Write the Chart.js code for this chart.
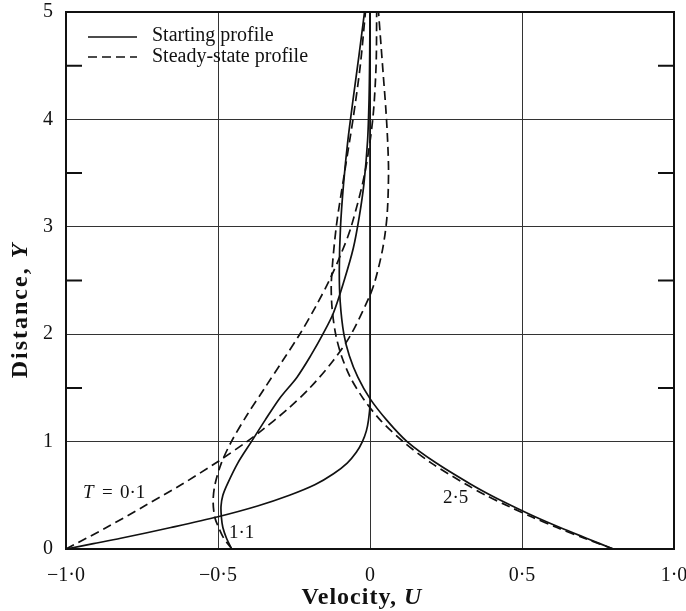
<!DOCTYPE html>
<html>
<head>
<meta charset="utf-8">
<script src="https://cdn.jsdelivr.net/npm/chart.js@4/dist/chart.umd.min.js"></script>
<style>
  html, body { margin: 0; padding: 0; background: #fff; }
  canvas { display: block; }
</style>
</head>
<body>
<canvas id="chart" width="686" height="611"></canvas>
<script>
// Velocity profiles: U (velocity) against Y (distance)

// T = 0.1
const startY01 = [0, 0.05, 0.1, 0.2, 0.3, 0.4, 0.5, 0.6, 0.7, 0.8, 0.9, 1.0, 1.1, 1.2, 1.35, 2.0, 3.0, 4.0, 5.0];
const startU01 = [-1.0, -0.91, -0.82, -0.655, -0.50, -0.37, -0.265, -0.18, -0.12, -0.075, -0.045, -0.025, -0.012, -0.005, 0, 0, 0, 0, 0];
const steadyY01 = [0, 0.2, 0.4, 0.6, 0.82, 1.0, 1.1, 1.3, 1.5, 1.75, 2.0, 2.35, 2.5, 2.8, 3.1, 3.5, 3.8, 4.1, 4.4, 4.7, 5.0];
const steadyU01 = [-1.0, -0.867, -0.742, -0.62, -0.497, -0.405, -0.358, -0.272, -0.198, -0.122, -0.062, -0.002, 0.017, 0.042, 0.056, 0.061, 0.058, 0.052, 0.044, 0.036, 0.028];

// T = 1.1
const startY11 = [0, 0.1, 0.2, 0.3, 0.4, 0.5, 0.6, 0.8, 1.0, 1.2, 1.4, 1.6, 1.8, 2.0, 2.2, 2.5, 2.8, 3.1, 3.4, 3.8, 4.2, 4.6, 5.0];
const startU11 = [-0.455, -0.472, -0.484, -0.489, -0.49, -0.484, -0.47, -0.435, -0.39, -0.345, -0.298, -0.24, -0.195, -0.155, -0.12, -0.085, -0.055, -0.035, -0.02, -0.008, -0.003, -0.001, 0];
const steadyY11 = [0, 0.1, 0.2, 0.3, 0.45, 0.6, 0.8, 1.0, 1.25, 1.5, 1.75, 2.0, 2.25, 2.5, 2.75, 3.0, 3.5, 4.0, 4.5, 5.0];
const steadyU11 = [-0.454, -0.481, -0.498, -0.511, -0.516, -0.51, -0.489, -0.456, -0.404, -0.346, -0.288, -0.231, -0.18, -0.134, -0.095, -0.062, -0.017, 0.009, 0.02, 0.022];

// T = 2.5
const startY25 = [0, 0.1, 0.2, 0.3, 0.4, 0.5, 0.6, 0.8, 1.0, 1.2, 1.4, 1.6, 1.8, 2.0, 2.3, 2.6, 3.0, 3.4, 3.8, 4.2, 4.6, 5.0];
const startU25 = [0.80, 0.712, 0.625, 0.543, 0.468, 0.397, 0.333, 0.218, 0.122, 0.055, 0.0, -0.04, -0.068, -0.086, -0.098, -0.101, -0.097, -0.087, -0.073, -0.055, -0.036, -0.018];
const steadyY25 = [0, 0.1, 0.2, 0.3, 0.4, 0.5, 0.6, 0.8, 1.0, 1.2, 1.4, 1.6, 1.8, 2.0, 2.25, 2.5, 3.0, 3.5, 4.0, 4.5, 5.0];
const steadyU25 = [0.801, 0.705, 0.615, 0.531, 0.454, 0.381, 0.317, 0.202, 0.109, 0.034, -0.022, -0.065, -0.094, -0.113, -0.125, -0.127, -0.111, -0.084, -0.056, -0.032, -0.015];

// Axis ticks
const xTicks = [-1, -0.5, 0, 0.5, 1];
const xTickLabels = ['−1·0', '−0·5', '0', '0·5', '1·0'];
const minorY = [1.5, 2.5, 3.5, 4.5];

const SERIF = '"Liberation Serif", "DejaVu Serif", serif';
const INK = '#111';

function toPoints(us, ys) {
    return us.map((u, i) => ({ x: u, y: ys[i] }));
}

function profile(us, ys, dashed) {
    return {
        data: toPoints(us, ys),
        showLine: true,
        borderColor: INK,
        borderWidth: 1.7,
        borderDash: dashed ? [9, 5] : [],
        pointRadius: 0,
        tension: 0.3,
        fill: false
    };
}

// draws "plain" + "italic" run centred on cx
function mixedText(ctx, plain, italic, size, bold, cx, cy) {
    const w = bold ? 'bold ' : '';
    ctx.font = w + size + 'px ' + SERIF;
    const aW = ctx.measureText(plain).width;
    ctx.font = w + 'italic ' + size + 'px ' + SERIF;
    const bW = ctx.measureText(italic).width;
    const sx = cx - (aW + bW) / 2;
    ctx.font = w + size + 'px ' + SERIF;
    ctx.fillText(plain, sx, cy);
    ctx.font = w + 'italic ' + size + 'px ' + SERIF;
    ctx.fillText(italic, sx + aW, cy);
}

// Frame, minor ticks, legend, curve labels and axis titles
const decorations = {
    id: 'decorations',
    afterDraw(chart) {
        const ctx = chart.ctx;
        const a = chart.chartArea;
        const ys = chart.scales.y;
        ctx.save();

        // frame
        ctx.strokeStyle = INK;
        ctx.lineWidth = 2;
        ctx.setLineDash([]);
        ctx.strokeRect(a.left, a.top, a.right - a.left, a.bottom - a.top);

        // minor ticks inside on both sides
        minorY.forEach(v => {
            const py = ys.getPixelForValue(v);
            ctx.beginPath();
            ctx.moveTo(a.left, py); ctx.lineTo(a.left + 16, py);
            ctx.moveTo(a.right, py); ctx.lineTo(a.right - 16, py);
            ctx.stroke();
        });

        // legend
        ctx.lineWidth = 1.7;
        ctx.beginPath();
        ctx.moveTo(88, 37); ctx.lineTo(137, 37);
        ctx.stroke();
        ctx.setLineDash([9, 5]);
        ctx.beginPath();
        ctx.moveTo(88, 57); ctx.lineTo(137, 57);
        ctx.stroke();
        ctx.setLineDash([]);
        ctx.fillStyle = INK;
        ctx.font = '20px ' + SERIF;
        ctx.textAlign = 'left';
        ctx.textBaseline = 'middle';
        ctx.fillText('Starting profile', 152, 36);
        ctx.fillText('Steady-state profile', 152, 57);

        // curve labels
        ctx.font = 'italic 19px ' + SERIF;
        ctx.fillText('T', 83, 493);
        ctx.font = '19px ' + SERIF;
        ctx.fillText('=', 102, 493);
        ctx.fillText('0·1', 120, 493);
        ctx.fillText('1·1', 229, 533);
        ctx.fillText('2·5', 443, 498);

        // axis titles
        ctx.letterSpacing = '1px';
        mixedText(ctx, 'Velocity, ', 'U', 24, true, 362, 598);
        ctx.letterSpacing = '2px';
        ctx.translate(21, 310);
        ctx.rotate(-Math.PI / 2);
        mixedText(ctx, 'Distance, ', 'Y', 24, true, 0, 0);

        ctx.restore();
    }
};

new Chart(document.getElementById('chart'), {
    type: 'scatter',
    data: {
        datasets: [
            profile(startU01, startY01, false),
            profile(steadyU01, steadyY01, true),
            profile(startU11, startY11, false),
            profile(steadyU11, steadyY11, true),
            profile(startU25, startY25, false),
            profile(steadyU25, steadyY25, true)
        ]
    },
    options: {
        responsive: false,
        animation: false,
        layout: { padding: { top: 12, right: 12, left: 0, bottom: 0 } },
        plugins: {
            legend: { display: false },
            tooltip: { enabled: false }
        },
        scales: {
            x: {
                type: 'linear',
                min: -1,
                max: 1,
                afterFit: (scale) => {
                    scale.height = 62;
                    scale.paddingLeft = 0;
                    scale.paddingRight = 0;
                },
                ticks: {
                    stepSize: 0.5,
                    color: INK,
                    padding: 15,
                    font: { family: SERIF, size: 20 },
                    callback: (value) => {
                        const i = xTicks.findIndex(t => Math.abs(t - value) < 1e-9);
                        return i >= 0 ? xTickLabels[i] : '';
                    }
                },
                grid: { color: '#333', lineWidth: 1, drawTicks: false },
                border: { color: INK, width: 2 }
            },
            y: {
                type: 'linear',
                min: 0,
                max: 5,
                afterFit: (scale) => {
                    scale.width = 66;
                    scale.paddingTop = 0;
                    scale.paddingBottom = 0;
                },
                ticks: {
                    stepSize: 1,
                    color: INK,
                    padding: 13,
                    font: { family: SERIF, size: 20 }
                },
                grid: { color: '#333', lineWidth: 1, drawTicks: false },
                border: { color: INK, width: 2 }
            }
        }
    },
    plugins: [decorations]
});
</script>
</body>
</html>
